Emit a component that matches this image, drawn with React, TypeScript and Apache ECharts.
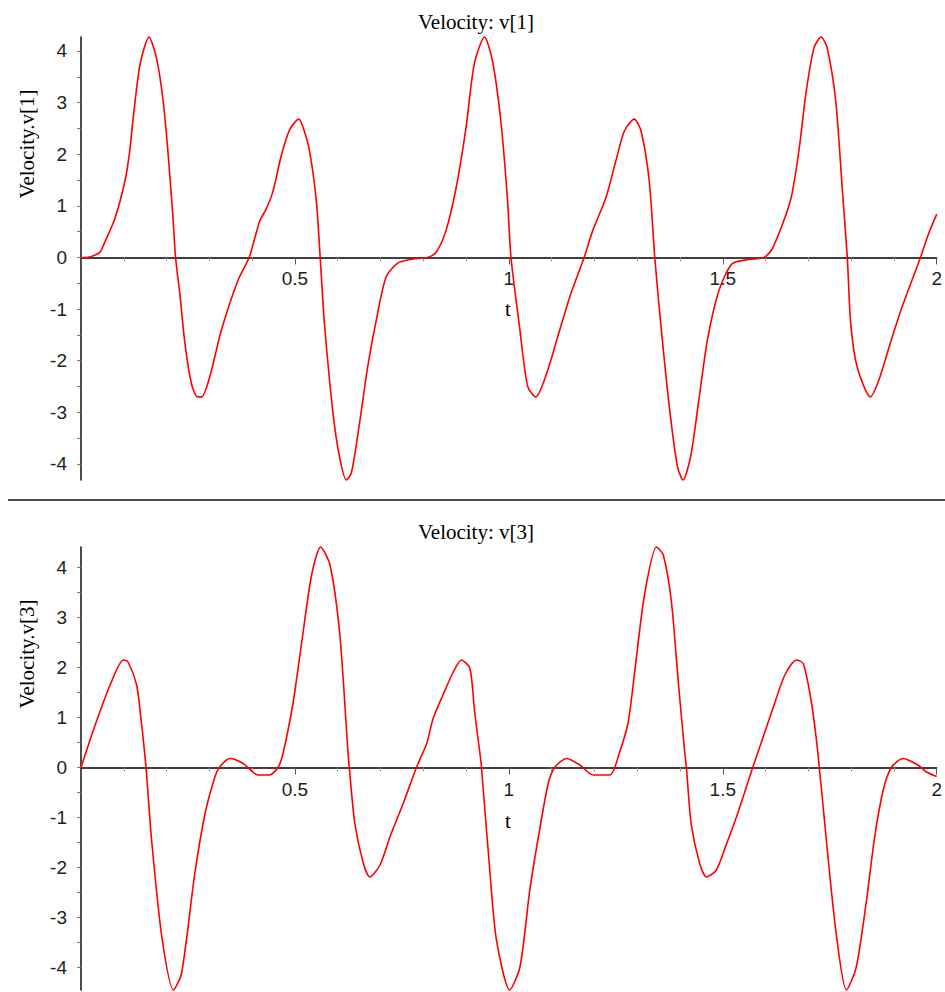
import React, { useEffect, useRef } from "react";
import * as echarts from "echarts";

// v[1] samples (t, value)
const T1 = [0, 0.02, 0.044, 0.052, 0.079, 0.103, 0.114, 0.122, 0.138, 0.159, 0.177, 0.192, 0.203, 0.215, 0.221, 0.231, 0.243, 0.258, 0.272, 0.282, 0.301, 0.328, 0.367, 0.393, 0.418, 0.433, 0.449, 0.468, 0.488, 0.509, 0.519, 0.534, 0.55, 0.559, 0.569, 0.589, 0.604, 0.62, 0.632, 0.651, 0.67, 0.69, 0.713, 0.74, 0.776, 0.81, 0.83, 0.853, 0.877, 0.9, 0.919, 0.943, 0.962, 0.982, 0.997, 1.005, 1.024, 1.044, 1.063, 1.091, 1.114, 1.145, 1.176, 1.196, 1.227, 1.25, 1.27, 1.293, 1.309, 1.328, 1.341, 1.355, 1.375, 1.394, 1.407, 1.425, 1.445, 1.464, 1.491, 1.522, 1.561, 1.596, 1.616, 1.658, 1.678, 1.694, 1.713, 1.73, 1.744, 1.764, 1.779, 1.791, 1.799, 1.814, 1.845, 1.865, 1.896, 1.919, 1.962, 1.981, 2.0];
const V1 = [0, 0.01, 0.1, 0.23, 0.75, 1.49, 2.07, 2.7, 3.74, 4.27, 3.84, 3.03, 2.07, 0.77, 0, -0.7, -1.67, -2.44, -2.7, -2.7, -2.31, -1.41, -0.44, 0, 0.71, 0.94, 1.29, 1.97, 2.48, 2.68, 2.52, 2.07, 1.1, 0, -1.28, -3.02, -3.85, -4.31, -4.17, -3.21, -2.12, -1.22, -0.38, -0.11, -0.03, 0, 0.1, 0.52, 1.36, 2.52, 3.74, 4.27, 3.8, 2.58, 1.1, 0, -1.28, -2.5, -2.7, -2.18, -1.54, -0.7, 0, 0.52, 1.16, 1.87, 2.45, 2.68, 2.45, 1.49, 0, -1.28, -2.89, -4.05, -4.31, -3.85, -2.7, -1.6, -0.64, -0.12, -0.04, 0, 0.17, 1.1, 2.07, 3.16, 4.06, 4.27, 4.06, 3.03, 1.36, 0, -1.28, -2.12, -2.7, -2.37, -1.54, -0.96, 0, 0.46, 0.84];

// v[3] samples (t, value)
const T3 = [0, 0.021, 0.044, 0.068, 0.099, 0.11, 0.13, 0.141, 0.152, 0.165, 0.189, 0.216, 0.235, 0.266, 0.29, 0.313, 0.324, 0.348, 0.379, 0.414, 0.441, 0.461, 0.473, 0.496, 0.515, 0.539, 0.56, 0.582, 0.605, 0.624, 0.627, 0.64, 0.66, 0.675, 0.699, 0.722, 0.753, 0.784, 0.808, 0.823, 0.846, 0.87, 0.889, 0.909, 0.92, 0.932, 0.936, 0.956, 0.971, 1.002, 1.026, 1.049, 1.069, 1.092, 1.108, 1.135, 1.166, 1.197, 1.236, 1.259, 1.279, 1.294, 1.317, 1.345, 1.361, 1.38, 1.396, 1.411, 1.415, 1.426, 1.446, 1.462, 1.485, 1.509, 1.532, 1.57, 1.594, 1.617, 1.645, 1.672, 1.688, 1.707, 1.722, 1.742, 1.765, 1.789, 1.812, 1.836, 1.855, 1.875, 1.894, 1.921, 1.956, 1.976, 2.0];
const V3 = [0, 0.55, 1.11, 1.65, 2.15, 2.11, 1.65, 0.91, 0, -1.45, -3.39, -4.45, -4.12, -2.12, -0.92, -0.19, 0.01, 0.18, 0.08, -0.15, -0.15, 0.01, 0.31, 1.31, 2.45, 3.85, 4.41, 4.05, 2.65, 0.31, 0, -1.12, -1.92, -2.19, -1.95, -1.39, -0.72, 0, 0.48, 0.98, 1.45, 1.91, 2.15, 1.98, 1.11, 0.31, 0, -2.12, -3.45, -4.45, -3.99, -2.45, -1.39, -0.32, 0.01, 0.18, 0.05, -0.15, -0.15, 0.31, 0.91, 1.91, 3.45, 4.41, 4.25, 3.31, 1.71, 0.31, 0, -1.12, -1.92, -2.19, -2.05, -1.52, -0.99, 0, 0.6, 1.18, 1.85, 2.15, 2.08, 1.31, 0.31, -1.45, -3.32, -4.45, -3.99, -2.65, -1.39, -0.45, 0, 0.18, 0.05, -0.09, -0.18];

const Y_LABELS = [-4, -3, -2, -1, 0, 1, 2, 3, 4];
const Y_TICKS = [-4, -3.5, -3, -2.5, -2, -1.5, -1, -0.5, 0, 0.5, 1, 1.5, 2, 2.5, 3, 3.5, 4];
const TITLES = ["Velocity: v[1]", "Velocity: v[3]"];
const Y_NAMES = ["Velocity.v[1]", "Velocity.v[3]"];
const X_NAME = "t";
const Y_RANGES = [
  [-4.31, 4.27],
  [-4.45, 4.41],
];

const SANS = "Liberation Sans";
const SERIF = "Liberation Serif";
const GRID_TOPS = [37, 547];
const GRID_H = 443;

export default function App() {
  const ref = useRef<HTMLDivElement>(null);
  useEffect(() => {
    if (!ref.current) return;
    const chart = echarts.init(ref.current, null, { renderer: "svg" });
    const mkX = (gi: number) => {
      const [lo, hi] = Y_RANGES[gi];
      // shift the axis from the grid bottom up to the y = 0 line
      const off = -(GRID_H * (-lo) / (hi - lo));
      return {
        type: "value",
        gridIndex: gi,
        min: 0,
        max: 2,
        interval: 0.5,
        offset: off,
        axisLine: { onZero: false, lineStyle: { color: "#000", width: 1.5 } },
        axisTick: { show: true, length: 7, lineStyle: { color: "#555", width: 1 } },
        minorTick: { show: true, splitNumber: 5, length: 4, lineStyle: { color: "#999", width: 1 } },
        splitLine: { show: false },
        minorSplitLine: { show: false },
        axisLabel: {
          formatter: (v: number) => (v === 0 ? "" : String(v)),
          margin: 12,
          fontFamily: SANS,
          fontSize: 19,
          color: "#222",
          showMaxLabel: true,
        },
      };
    };
    const mkY = (gi: number) => ({
      type: "value",
      gridIndex: gi,
      min: Y_RANGES[gi][0],
      max: Y_RANGES[gi][1],
      axisLine: { show: true, onZero: false, lineStyle: { color: "#111", width: 1.5 } },
      axisTick: { show: true, length: 4, customValues: Y_TICKS, lineStyle: { color: "#777" } },
      axisLabel: {
        customValues: Y_LABELS,
        formatter: (v: number) => String(v),
        margin: 14,
        fontFamily: SANS,
        fontSize: 19,
        color: "#222",
      },
      splitLine: { show: false },
    });
    const serif = (text: string, x: number, y: number, extra: any = {}) => ({
      type: "text",
      x,
      y,
      ...extra,
      style: {
        text,
        fontFamily: SERIF,
        fontSize: 21,
        fill: "#000",
        align: "center",
        verticalAlign: "middle",
      },
    });
    chart.setOption({
      animation: false,
      backgroundColor: "#fff",
      grid: [
        { left: 81, right: 7, top: GRID_TOPS[0], height: GRID_H },
        { left: 81, right: 7, top: GRID_TOPS[1], height: GRID_H },
      ],
      xAxis: [mkX(0), mkX(1)],
      yAxis: [mkY(0), mkY(1)],
      series: [
        {
          type: "line",
          xAxisIndex: 0,
          yAxisIndex: 0,
          data: T1.map((t, i) => [t, V1[i]]),
          showSymbol: false,
          smooth: 0.25,
          clip: false,
          lineStyle: { color: "#ff0000", width: 1.6 },
        },
        {
          type: "line",
          xAxisIndex: 1,
          yAxisIndex: 1,
          data: T3.map((t, i) => [t, V3[i]]),
          showSymbol: false,
          smooth: 0.25,
          clip: false,
          lineStyle: { color: "#ff0000", width: 1.6 },
        },
      ],
      graphic: [
        serif(TITLES[0], 476, 22),
        serif(TITLES[1], 476, 532),
        serif(Y_NAMES[0], 27, 144, { rotation: Math.PI / 2 }),
        serif(Y_NAMES[1], 27, 654, { rotation: Math.PI / 2 }),
        serif(X_NAME, 508, 309),
        serif(X_NAME, 508, 821),
        {
          type: "line",
          shape: { x1: 8, y1: 500, x2: 945, y2: 500 },
          style: { stroke: "#4a4a4a", lineWidth: 2 },
        },
      ],
    });
    return () => chart.dispose();
  }, []);
  return (
    <div
      ref={ref}
      style={{ position: "fixed", left: 0, top: 0, width: 945, height: 992, background: "#fff" }}
    />
  );
}
